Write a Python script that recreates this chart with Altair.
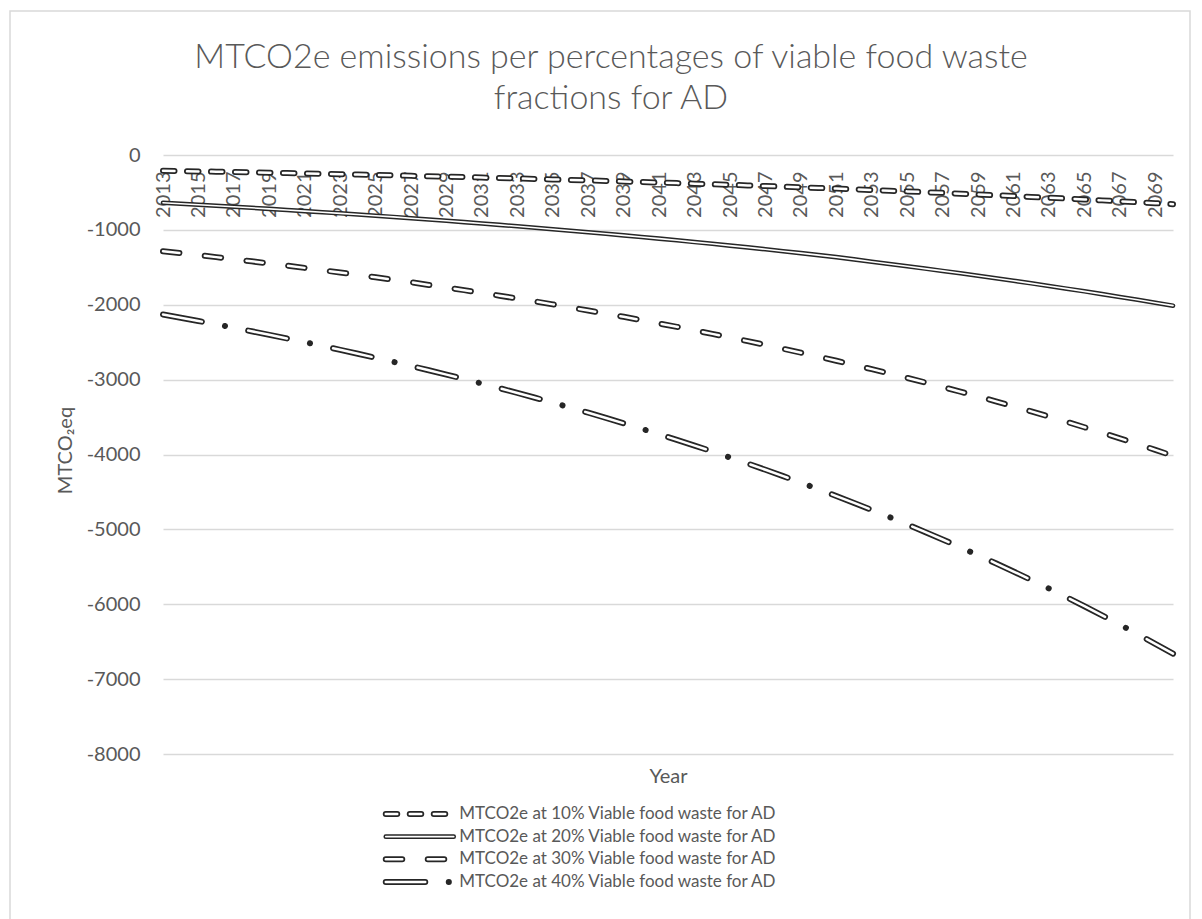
import altair as alt
import pandas as pd

# ---------------- data ----------------
years = list(range(2013, 2071))
series = [
    "MTCO2e at 10% Viable food waste for AD",
    "MTCO2e at 20% Viable food waste for AD",
    "MTCO2e at 30% Viable food waste for AD",
    "MTCO2e at 40% Viable food waste for AD",
]
s10 = [-210, -214, -219, -223, -227, -232, -237, -242, -246, -251,
       -256, -262, -267, -272, -278, -283, -289, -295, -301, -307,
       -313, -320, -326, -333, -339, -346, -353, -360, -368, -375,
       -383, -390, -398, -406, -415, -423, -431, -440, -449, -458,
       -467, -477, -486, -496, -506, -517, -527, -538, -548, -560,
       -571, -582, -594, -606, -618, -631, -644, -657]
s20 = [-638, -651, -664, -677, -691, -705, -719, -734, -749, -764,
       -779, -795, -811, -827, -844, -861, -879, -896, -914, -933,
       -952, -971, -991, -1011, -1031, -1052, -1073, -1095, -1117, -1139,
       -1163, -1186, -1210, -1234, -1259, -1285, -1311, -1337, -1364, -1394,
       -1425, -1455, -1486, -1517, -1548, -1580, -1613, -1646, -1680, -1714,
       -1749, -1785, -1821, -1858, -1896, -1934, -1973, -2012]
s30 = [-1285, -1311, -1337, -1364, -1392, -1420, -1449, -1478, -1508, -1538,
       -1570, -1601, -1634, -1667, -1700, -1735, -1770, -1805, -1842, -1879,
       -1917, -1956, -1995, -2036, -2077, -2119, -2161, -2205, -2250, -2295,
       -2341, -2389, -2437, -2486, -2536, -2588, -2640, -2693, -2748, -2803,
       -2860, -2918, -2977, -3037, -3098, -3161, -3224, -3290, -3356, -3424,
       -3493, -3564, -3636, -3709, -3784, -3860, -3938, -4018]
s40 = [-2130, -2173, -2217, -2262, -2307, -2354, -2402, -2450, -2500, -2550,
       -2602, -2654, -2708, -2762, -2818, -2875, -2933, -2992, -3053, -3115,
       -3178, -3242, -3307, -3374, -3442, -3512, -3583, -3655, -3729, -3804,
       -3881, -3959, -4040, -4121, -4204, -4289, -4376, -4464, -4555, -4647,
       -4740, -4836, -4934, -5034, -5135, -5239, -5345, -5453, -5563, -5675,
       -5790, -5907, -6026, -6148, -6272, -6399, -6528, -6660]
x_tick_years = list(range(2013, 2070, 2))
y_ticks = list(range(-8000, 1, 1000))

# ---------------- styles ----------------
INK = "#262626"
GRID = "#d9d9d9"
TXT = "#595959"
FONT = "Lato"
W, H = 1010, 599
dark_dash = [[11.5, 12.5], None, [16.5, 25.5], [39.5, 23.5, 0.1, 23.6]]
white_dash = [[11.5, 12.5], None, [16.5, 25.5], [39.5, 47.2]]
dark_w = [6, 4.6, 6, 6]
white_w = [2.5, 1.6, 2.5, 2.5]
key_len = [59.5, 68, 58.5, 63.1]       # legend key lengths (px)
key_x0 = 222.75                       # legend key start, px from plot left
key_rows_px = [659, 727]              # legend first/last row, px from plot top
text_kx = 73.5                        # legend text start along key axis

df = pd.DataFrame({
    "year": years * 4,
    "value": s10 + s20 + s30 + s40,
    "series": [s for s in series for _ in years],
})

x_enc = alt.X(
    "year:Q", title="Year",
    scale=alt.Scale(domain=[2013, 2070], nice=False, zero=False),
    axis=alt.Axis(values=x_tick_years, labelAngle=270, labelAlign="right",
                  labelBaseline="middle", labelPadding=16, offset=-H,
                  domain=False, ticks=False, grid=False, labelOverlap=False,
                  labelFlush=False, labelExpr="toString(datum.value)",
                  titleY=621, titleBaseline="middle"),
)
y_enc = alt.Y(
    "value:Q", title="MTCO\u2082eq",
    scale=alt.Scale(domain=[-8000, 0], nice=False, zero=False),
    axis=alt.Axis(values=y_ticks, labelExpr="toString(datum.value)",
                  domain=False, ticks=False, grid=True, gridColor=GRID,
                  gridWidth=1.3, labelPadding=23, labelOverlap=False,
                  titleX=-98, titleY=295, titleAngle=270,
                  titleBaseline="middle", titleAlign="center"),
)

main_layers = []
border = alt.Chart(pd.DataFrame({"a": [0]})).mark_rect(
    fillOpacity=0, stroke=GRID, strokeWidth=1.5
).encode(x=alt.value(-153), x2=alt.value(1027), y=alt.value(-144), y2=alt.value(780))
main_layers.append(border)

for i, name in enumerate(series):
    base = alt.Chart(df).transform_filter(alt.FieldEqualPredicate(field="series", equal=name))
    dk = dict(color=INK, strokeWidth=dark_w[i], strokeCap="round", strokeJoin="round")
    wt = dict(color="white", strokeWidth=white_w[i], strokeCap="round", strokeJoin="round")
    if dark_dash[i]:
        dk["strokeDash"] = dark_dash[i]
        wt["strokeDash"] = white_dash[i]
    main_layers.append(base.mark_line(**dk).encode(x=x_enc, y=y_enc))
    main_layers.append(base.mark_line(**wt).encode(x=x_enc, y=y_enc))

main = alt.layer(*main_layers)

# ---------------- legend ----------------
leg_rows = []
for i, name in enumerate(series):
    leg_rows.append({"series": name, "row": i, "kx": 0})
    leg_rows.append({"series": name, "row": i, "kx": key_len[i]})
leg_df = pd.DataFrame(leg_rows)
txt_df = pd.DataFrame({"series": series, "row": list(range(4)), "kx": [text_kx] * 4})

lx = alt.X("kx:Q", scale=alt.Scale(domain=[0, 100], range=[key_x0, key_x0 + 100]), axis=None)
ly = alt.Y("row:Q", scale=alt.Scale(domain=[0, 3], range=key_rows_px), axis=None)

leg_layers = []
for i, name in enumerate(series):
    base = alt.Chart(leg_df).transform_filter(alt.FieldEqualPredicate(field="series", equal=name))
    dk = dict(color=INK, strokeWidth=dark_w[i], strokeCap="round", strokeJoin="round")
    wt = dict(color="white", strokeWidth=white_w[i], strokeCap="round", strokeJoin="round")
    if dark_dash[i]:
        dk["strokeDash"] = dark_dash[i]
        wt["strokeDash"] = white_dash[i]
    leg_layers.append(base.mark_line(**dk).encode(x=lx, y=ly))
    leg_layers.append(base.mark_line(**wt).encode(x=lx, y=ly))
leg_layers.append(
    alt.Chart(txt_df).mark_text(align="left", baseline="middle", font=FONT,
                                fontSize=17, color=TXT)
    .encode(x=lx, y=ly, text="series:N")
)
legend = alt.layer(*leg_layers)

chart = (
    alt.layer(main, legend)
    .resolve_scale(x="independent", y="independent")
    .properties(
        width=W, height=H,
        padding={"left": 1, "top": 2, "right": 0, "bottom": 0},
        title=alt.TitleParams(
            text=["MTCO2e emissions per percentages of viable food waste",
                  "fractions for AD"],
            font=FONT, fontSize=34, fontWeight=300, color=TXT,
            anchor="middle", dx=-57, dy=148, offset=42, lineHeight=41,
        ),
    )
    .configure_view(strokeWidth=0)
    .configure_axis(labelFont=FONT, titleFont=FONT, labelFontSize=20,
                    titleFontSize=20, labelColor=TXT, titleColor=TXT,
                    titleFontWeight="normal")
)

chart.save("out.html", embed_options={"renderer": "svg", "actions": False})
